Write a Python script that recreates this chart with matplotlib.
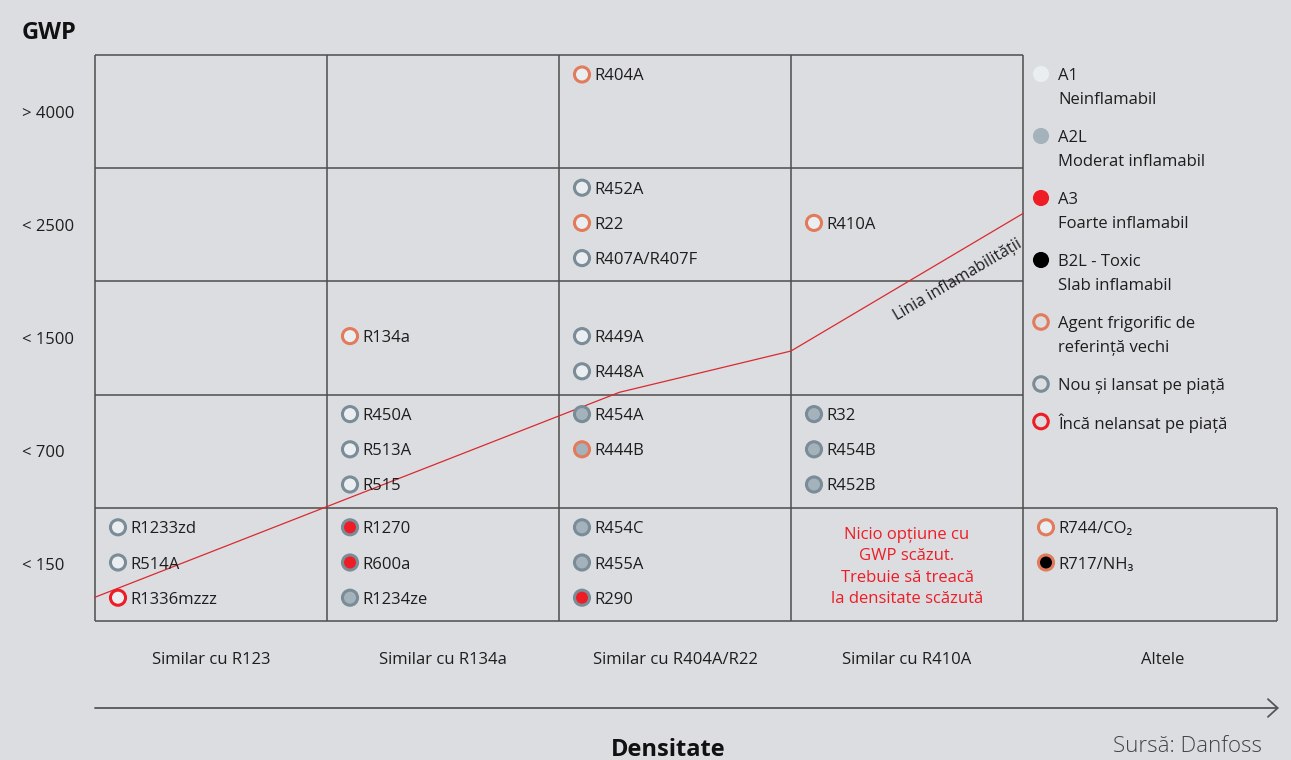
import matplotlib
matplotlib.use("Agg")
import matplotlib.pyplot as plt

plt.rcParams['font.family'] = ['Open Sans', 'DejaVu Sans']

# --- data ---
columns = ["Similar cu R123", "Similar cu R134a", "Similar cu R404A/R22",
           "Similar cu R410A", "Altele"]
gwp_rows = ["> 4000", "< 2500", "< 1500", "< 700", "< 150"]

names = ["R404A",
         "R452A", "R22", "R407A/R407F", "R410A",
         "R134a", "R449A", "R448A",
         "R450A", "R513A", "R515", "R454A", "R444B", "R32", "R454B", "R452B",
         "R1233zd", "R514A", "R1336mzzz", "R1270", "R600a", "R1234ze",
         "R454C", "R455A", "R290", "R744/CO\u2082", "R717/NH\u2083"]
col_idx = [2,
           2, 2, 2, 3,
           1, 2, 2,
           1, 1, 1, 2, 2, 3, 3, 3,
           0, 0, 0, 1, 1, 1,
           2, 2, 2, 4, 4]
row_idx = [0,
           1, 1, 1, 1,
           2, 2, 2,
           3, 3, 3, 3, 3, 3, 3, 3,
           4, 4, 4, 4, 4, 4,
           4, 4, 4, 4, 4]
slot_idx = [0,
            0, 1, 2, 1,
            1, 1, 2,
            0, 1, 2, 0, 1, 0, 1, 2,
            0, 1, 2, 0, 1, 2,
            0, 1, 2, 0, 1]
safety = ["A1",
          "A1", "A1", "A1", "A1",
          "A1", "A1", "A1",
          "A1", "A1", "A1", "A2L", "A2L", "A2L", "A2L", "A2L",
          "A1", "A1", "A1", "A3", "A3", "A2L",
          "A2L", "A2L", "A3", "A1", "B2L"]
status = ["old",
          "new", "old", "new", "old",
          "old", "new", "new",
          "new", "new", "new", "new", "old", "new", "new", "new",
          "new", "new", "not", "new", "new", "new",
          "new", "new", "new", "old", "old"]

# flammability line (column units, row units)
flam_x = [0.0, 2.26, 3.0, 4.0]
flam_y = [4.79, 2.98, 2.615, 1.40]

safety_labels = [("A1", "A1\nNeinflamabil"),
                 ("A2L", "A2L\nModerat inflamabil"),
                 ("A3", "A3\nFoarte inflamabil"),
                 ("B2L", "B2L - Toxic\nSlab inflamabil")]
status_labels = [("old", "Agent frigorific de\nreferință vechi"),
                 ("new", "Nou și lansat pe piață"),
                 ("not", "Încă nelansat pe piață")]

no_option_text = "Nicio opțiune cu\nGWP scăzut.\nTrebuie să treacă\nla densitate scăzută"

# --- styles ---
fill_colors = {"A1": "#eaeef1", "A2L": "#a4b2bc", "A3": "#ee1c25", "B2L": "#000000"}
edge_colors = {"old": "#e27b5c", "new": "#7a8c97", "not": "#ee1c25"}
bg = "#dcdde0"
grid_c = "#4d4d4d"
txt_c = "#1e1e1e"
red_txt = "#ee1c25"

W, H = 1291, 760
X0, COLW = 95, 232.0
Y0, ROWH = 55, 113.2
TOFF = 2  # text sits a little lower than its marker centre


def px(x):
    return (x - X0) / COLW


def py(y):
    return (y - Y0) / ROWH


fig = plt.figure(figsize=(W / 100, H / 100), dpi=100, facecolor=bg)
ax = fig.add_axes([0, 0, 1, 1])
ax.set_facecolor(bg)
ax.set_xlim(px(0), px(W))
ax.set_ylim(py(H), py(0))
ax.axis("off")

# grid
ncol = 4
nrow = len(gwp_rows)
ax.vlines(range(ncol + 1), 0, nrow, colors=grid_c, lw=1.1)
ax.hlines(range(nrow + 1), 0, ncol, colors=grid_c, lw=1.1)
right_edge = px(1277)
ax.hlines([nrow - 1, nrow], ncol, right_edge, colors=grid_c, lw=1.1)
ax.vlines(right_edge, nrow - 1, nrow, colors=grid_c, lw=1.1)

# flammability line
ax.plot(flam_x, flam_y, color="#d92a30", lw=0.9, zorder=2)
ax.text(px(958), py(280), "Linia inflamabilității", rotation=30.5,
        rotation_mode="anchor", ha="center", va="center",
        fontsize=11.5, color=txt_c)

# refrigerants
mx = [c + 23 / COLW for c in col_idx]
my = [r + 19.5 / ROWH + s * 35.2 / ROWH for r, s in zip(row_idx, slot_idx)]
ax.scatter(mx, my, s=118,
           c=[fill_colors[k] for k in safety],
           edgecolors=[edge_colors[k] for k in status],
           linewidths=2.2, zorder=4)
for x, y, n in zip(mx, my, names):
    ax.text(x + 12 / COLW, y + TOFF / ROWH, n, ha="left", va="center",
            fontsize=12, color=txt_c, zorder=5)

ax.text(3.5, py(567), no_option_text, ha="center", va="center",
        fontsize=12, color=red_txt, linespacing=1.45)

# row labels
for i, lab in enumerate(gwp_rows):
    ax.text(px(22), i + 0.5 + TOFF / ROWH, lab, ha="left", va="center",
            fontsize=12, color=txt_c)
ax.text(px(22), py(33), "GWP", ha="left", va="center", fontsize=17,
        fontweight="bold", color="#111111")

# column labels
for i, lab in enumerate(columns):
    ax.text(i + 0.5 + (0.1 if i == 4 else 0), py(660), lab, ha="center",
            va="center", fontsize=12, color=txt_c)

# density arrow
ax.annotate("", xy=(px(1279), py(708)), xytext=(px(95), py(708)),
            arrowprops=dict(arrowstyle="->,head_length=0.35,head_width=0.32",
                            color="#555555", lw=1.3, mutation_scale=20,
                            shrinkA=0, shrinkB=0))
ax.text(px(668), py(756), "Densitate", ha="center", va="baseline", fontsize=17,
        fontweight="bold", color="#111111")
ax.text(px(1262), py(747), "Sursă: Danfoss", ha="right", va="center",
        fontsize=16, fontweight="light", color="#444444")

# legend
lx = px(1041)
ltx = px(1058)
ly = 74
line_h = 24.5
for key, lab in safety_labels:
    ax.scatter([lx], [py(ly)], s=135, c=fill_colors[key], edgecolors="none", zorder=4)
    for k, part in enumerate(lab.split("\n")):
        ax.text(ltx, py(ly + TOFF + k * line_h), part, ha="left", va="center",
                fontsize=12, color=txt_c)
    ly += len(lab.split("\n")) * line_h + 13
for key, lab in status_labels:
    ax.scatter([lx], [py(ly)], s=110, facecolors="none",
               edgecolors=edge_colors[key], linewidths=2.2, zorder=4)
    for k, part in enumerate(lab.split("\n")):
        ax.text(ltx, py(ly + TOFF + k * line_h), part, ha="left", va="center",
                fontsize=12, color=txt_c)
    ly += len(lab.split("\n")) * line_h + 13

fig.savefig("out.png", dpi=100, facecolor=bg)
